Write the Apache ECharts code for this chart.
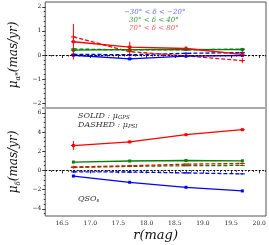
<!DOCTYPE html>
<html><head><meta charset="utf-8">
<script src="https://cdn.jsdelivr.net/npm/echarts@6/dist/echarts.min.js"></script>
<style>html,body{margin:0;padding:0;background:#fff}#c{width:269px;height:245px}</style>
</head><body><div id="c"></div>
<script>
const mags = [16.7, 17.7, 18.7, 19.7];
// top panel: mu_alpha*
const raSolidBlue  = [-0.01, -0.16, -0.05, -0.02];
const raSolidGreen = [0.20, 0.22, 0.23, 0.22];
const raSolidRed   = [0.55, 0.33, 0.27, 0.03];
const raDashBlue   = [0.03, 0.01, 0.07, 0.10];
const raDashGreen  = [0.25, 0.21, 0.21, 0.25];
const raDashRed    = [0.75, 0.14, -0.04, -0.23];
const raErrSolidRed = [0.74, 0.22, 0.10, 0.12];
const raErrDashRed  = [0.10, 0.10, 0.08, 0.10];
const raErrOther    = [0.06, 0.05, 0.05, 0.05];
// bottom panel: mu_delta
const decSolidBlue  = [-0.59, -1.24, -1.76, -2.14];
const decSolidGreen = [0.87, 0.98, 1.03, 1.00];
const decSolidRed   = [2.59, 2.97, 3.72, 4.24];
const decDashBlue   = [-0.15, -0.17, -0.26, -0.36];
const decDashGreen  = [0.30, 0.42, 0.49, 0.52];
const decDashRed    = [0.36, 0.48, 0.65, 0.72];
const decErrSolidRed = [0.48, 0.15, 0.10, 0.10];
const decErrOther    = [0.12, 0.10, 0.08, 0.08];

const xMajor = [16.5, 17.0, 17.5, 18.0, 18.5, 19.0, 19.5, 20.0];
const topMajor = [-2, -1, 0, 1, 2];
const botMajor = [-4, -2, 0, 2, 4, 6];

const BLUE = '#0000ff', GREEN = '#008000', RED = '#ff0000';
const range = (a, b, s) => { const r = []; for (let v = a; v <= b + 1e-9; v += s) r.push(Math.round(v * 100) / 100); return r; };
const xMinor = range(16.3, 20.1, 0.1);
const topMinor = range(-2.0, 2.0, 0.2);
const botMinor = range(-4.5, 6.0, 0.5);

const lblStyle = { fontFamily: 'DejaVu Serif', fontSize: 6, color: '#222' };
function xAxes(grid, showLabels) {
  return [
    { type: 'value', gridIndex: grid, min: 16.2, max: 20.12, position: 'bottom',
      axisLine: { show: false }, splitLine: { show: false },
      axisTick: { show: true, customValues: xMajor, length: 3, lineStyle: { color: '#333' } },
      axisLabel: { show: showLabels, customValues: xMajor, margin: 4, formatter: v => v.toFixed(1), ...lblStyle },
      name: showLabels ? 'r(mag)' : '', nameLocation: 'middle', nameGap: 13,
      nameTextStyle: { fontFamily: 'DejaVu Serif', fontStyle: 'italic', fontSize: 13, color: '#111' } },
    { type: 'value', gridIndex: grid, min: 16.2, max: 20.12, position: 'bottom',
      axisLine: { show: false }, splitLine: { show: false },
      axisTick: { show: true, customValues: xMinor, length: 1.5, lineStyle: { color: '#333' } },
      axisLabel: { show: false } }
  ];
}
function yAxes(grid, min, max, major, minor, rich) {
  return [
    { type: 'value', gridIndex: grid, min, max, position: 'left',
      axisLine: { show: false }, splitLine: { show: false },
      axisTick: { show: true, customValues: major, length: 3, lineStyle: { color: '#333' } },
      axisLabel: { show: true, customValues: major, margin: 4, formatter: v => (v < 0 ? '\u2212' + (-v) : '' + v), ...lblStyle },
      name: rich, nameLocation: 'middle', nameGap: 19, nameRotate: 90,
      nameTextStyle: { color: '#111', rich: {
        m: { fontFamily: 'DejaVu Serif', fontStyle: 'italic', fontSize: 12 },
        s: { fontFamily: 'DejaVu Serif', fontStyle: 'italic', fontSize: 7, padding: [8, 0, 0, 0] } } } },
    { type: 'value', gridIndex: grid, min, max, position: 'left',
      axisLine: { show: false }, splitLine: { show: false },
      axisTick: { show: true, customValues: minor, length: 1.5, lineStyle: { color: '#333' } },
      axisLabel: { show: false } }
  ];
}
function lineSeries(grid, vals, color, dashed) {
  return { type: 'line', xAxisIndex: grid * 2, yAxisIndex: grid * 2,
    data: mags.map((m, i) => [m, vals[i]]),
    symbol: dashed ? 'none' : 'rect', symbolSize: 3,
    itemStyle: { color }, lineStyle: { color, width: 1.3, type: dashed ? [4, 2] : 'solid' },
    silent: true, animation: false, z: 3 };
}
function errSeries(grid, vals, errs, color) {
  return { type: 'custom', xAxisIndex: grid * 2, yAxisIndex: grid * 2,
    data: mags.map((m, i) => [m, vals[i], errs[i]]), silent: true, animation: false, z: 4,
    renderItem: (params, api) => {
      const x = api.value(0), y = api.value(1), e = api.value(2);
      const t = api.coord([x, y + e]), b = api.coord([x, y - e]), c = api.coord([x, y]);
      const st = { stroke: color, lineWidth: 1 };
      return { type: 'group', children: [
        { type: 'line', shape: { x1: t[0], y1: t[1], x2: b[0], y2: b[1] }, style: st },
        { type: 'line', shape: { x1: c[0] - 2.5, y1: c[1], x2: c[0] + 2.5, y2: c[1] }, style: st }
      ] };
    } };
}
function zeroLine(grid) {
  return { type: 'line', xAxisIndex: grid * 2, yAxisIndex: grid * 2, data: [], silent: true, animation: false,
    markLine: { silent: true, symbol: 'none', label: { show: false }, animation: false,
      lineStyle: { color: '#000', width: 1, type: [2, 1.5] }, data: [{ yAxis: 0 }] }, z: 5 };
}

const series = [
  zeroLine(0), zeroLine(1),
  lineSeries(0, raDashBlue, BLUE, true), lineSeries(0, raDashGreen, GREEN, true), lineSeries(0, raDashRed, RED, true),
  lineSeries(0, raSolidBlue, BLUE, false), lineSeries(0, raSolidGreen, GREEN, false), lineSeries(0, raSolidRed, RED, false),
  errSeries(0, raDashBlue, raErrOther, BLUE), errSeries(0, raDashGreen, raErrOther, GREEN), errSeries(0, raDashRed, raErrDashRed, RED),
  errSeries(0, raSolidBlue, raErrOther, BLUE), errSeries(0, raSolidGreen, raErrOther, GREEN), errSeries(0, raSolidRed, raErrSolidRed, RED),
  lineSeries(1, decDashBlue, BLUE, true), lineSeries(1, decDashGreen, GREEN, true), lineSeries(1, decDashRed, RED, true),
  lineSeries(1, decSolidBlue, BLUE, false), lineSeries(1, decSolidGreen, GREEN, false), lineSeries(1, decSolidRed, RED, false),
  errSeries(1, decDashBlue, decErrOther, BLUE), errSeries(1, decDashGreen, decErrOther, GREEN), errSeries(1, decDashRed, decErrOther, RED),
  errSeries(1, decSolidRed, decErrSolidRed, RED)
];

const txt = (x, y, rich, text, fill) => ({ type: 'text', left: x, top: y, silent: true,
  style: { text, rich, fill, fontFamily: 'DejaVu Serif', fontStyle: 'italic', fontSize: 7 } });
const annRich = {
  m: { fontFamily: 'DejaVu Serif', fontStyle: 'italic', fontSize: 8, fill: '#333' },
  s: { fontFamily: 'DejaVu Serif', fontStyle: 'italic', fontSize: 5.5, fill: '#333', padding: [4, 0, 0, 0] }
};

const chart = echarts.init(document.getElementById('c'), null, { renderer: 'canvas' });
chart.setOption({
  animation: false,
  backgroundColor: '#fff',
  grid: [
    { left: 42, top: 2, width: 224, height: 106, show: true, borderColor: '#555', borderWidth: 1, backgroundColor: 'transparent' },
    { left: 42, top: 108, width: 224, height: 108, show: true, borderColor: '#555', borderWidth: 1, backgroundColor: 'transparent' }
  ],
  xAxis: [...xAxes(0, false), ...xAxes(1, true)],
  yAxis: [...yAxes(0, -2.2, 2.2, topMajor, topMinor, '{m|\u03bc}{s|\u03b1*}{m|(mas/yr)}'),
          ...yAxes(1, -4.75, 6.5, botMajor, botMinor, '{m|\u03bc}{s|\u03b4}{m|(mas/yr)}')],
  series,
  graphic: [
    { type: 'rect', shape: { x: 42, y: 107, width: 224, height: 2 }, style: { fill: '#aaa' }, silent: true, z: 10 },
    txt(124, 9, null, '\u221230\u00b0 < \u03b4 < \u221220\u00b0', '#6a6aff'),
    txt(129, 17, null, '30\u00b0 < \u03b4 < 40\u00b0', '#3c9a3c'),
    txt(129, 25, null, '70\u00b0 < \u03b4 < 80\u00b0', '#ff5a5a'),
    txt(78, 112, annRich, '{m|SOLID : \u03bc}{s|GPS}'),
    txt(78, 121, annRich, '{m|DASHED : \u03bc}{s|PSI}'),
    txt(78, 195, annRich, '{m|QSO}{s|s}')
  ]
});
</script></body></html>
